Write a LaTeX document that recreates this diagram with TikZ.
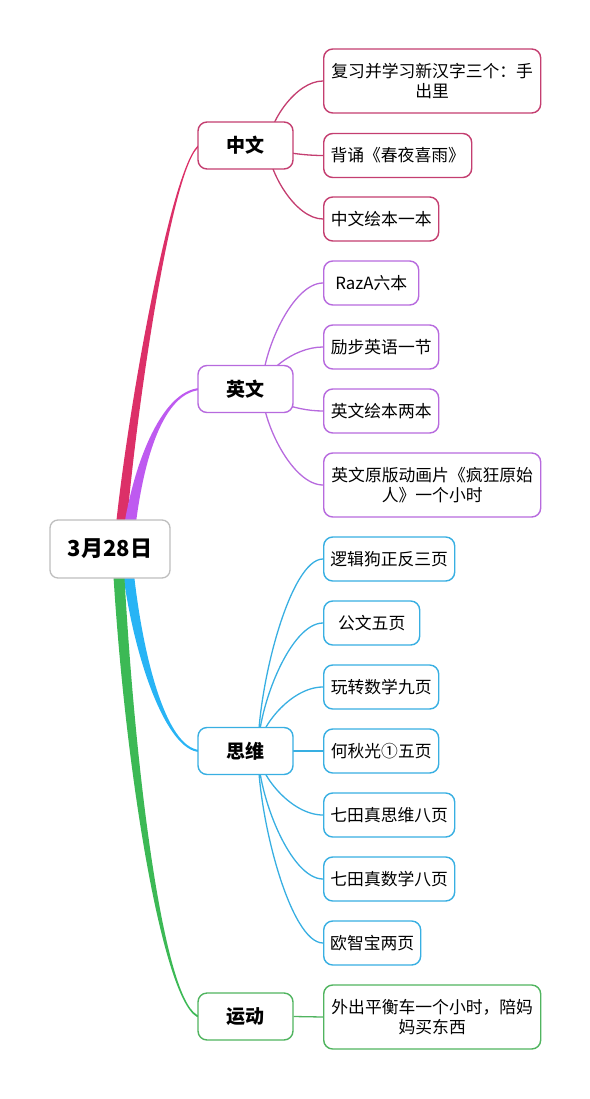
\documentclass[tikz,border=0pt]{standalone}
\usepackage{fontspec}
\setmainfont{Noto Sans CJK SC}
\usetikzlibrary{calc}
\pgfdeclarelayer{bg}
\pgfsetlayers{bg,main}
\definecolor{czb}{RGB}{220,48,104}
\definecolor{czk}{RGB}{196,62,112}
\definecolor{cyb}{RGB}{190,90,240}
\definecolor{cyk}{RGB}{183,106,222}
\definecolor{csb}{RGB}{40,180,245}
\definecolor{csk}{RGB}{56,175,226}
\definecolor{cdb}{RGB}{60,185,85}
\definecolor{cdk}{RGB}{80,180,95}
\definecolor{cgr}{RGB}{190,190,190}
\tikzset{
  rootbox/.style={draw=cgr, line width=1.3pt, fill=white, rounded corners=8pt,
    minimum width=120pt, minimum height=58pt, inner sep=0pt,
    font=\fontsize{22}{25}\selectfont\bfseries},
  pbox/.style={line width=1.4pt, fill=white, rounded corners=9pt,
    minimum width=95pt, minimum height=47pt, inner sep=0pt,
    font=\fontsize{19}{22}\selectfont\bfseries},
  kbox/.style={line width=1.4pt, fill=white, rounded corners=9pt, anchor=west,
    minimum height=44pt, inner sep=0pt, align=center,
    font=\fontsize{16.8}{20}\selectfont},
  tall/.style={minimum height=64pt},
  kidline/.style={line width=1.3pt, to path={.. controls ($(\tikztostart)!0.35!(\tikztostart|-\tikztotarget)$) and ($(\tikztotarget)!0.5!(\tikztotarget-|\tikztostart)$) .. (\tikztotarget)}}
}
\begin{document}
\begin{tikzpicture}[x=1pt,y=-1pt]
\useasboundingbox (0,0) rectangle (589,1099);
% nodes
\node[rootbox] (root) at (110,549) {3月28日};
\node[pbox, draw=czk] (zw) at (245.5,145.5) {中文};
\node[pbox, draw=cyk] (yw) at (245.5,389) {英文};
\node[pbox, draw=csk] (sw) at (245.5,751) {思维};
\node[pbox, draw=cdk] (yd) at (245.5,1016.5) {运动};
% 中文
\node[kbox, draw=czk, tall, minimum width=217pt] (z1) at (323,81) {复习并学习新汉字三个：手\\出里};
\node[kbox, draw=czk, minimum width=148pt] (z2) at (323,155.5) {背诵《春夜喜雨》};
\node[kbox, draw=czk, minimum width=115pt] (z3) at (323,219) {中文绘本一本};
% 英文
\node[kbox, draw=cyk, minimum width=95pt] (y1) at (323,283) {RazA六本};
\node[kbox, draw=cyk, minimum width=115pt] (y2) at (323,347) {励步英语一节};
\node[kbox, draw=cyk, minimum width=115pt] (y3) at (323,411) {英文绘本两本};
\node[kbox, draw=cyk, tall, minimum width=217pt] (y4) at (323,485) {英文原版动画片《疯狂原始\\人》一个小时};
% 思维
\node[kbox, draw=csk, minimum width=131pt] (s1) at (323,559) {逻辑狗正反三页};
\node[kbox, draw=csk, minimum width=96pt] (s2) at (323,623) {公文五页};
\node[kbox, draw=csk, minimum width=115pt] (s3) at (323,687) {玩转数学九页};
\node[kbox, draw=csk, minimum width=115pt] (s4) at (323,751) {何秋光①五页};
\node[kbox, draw=csk, minimum width=131pt] (s5) at (323,815) {七田真思维八页};
\node[kbox, draw=csk, minimum width=131pt] (s6) at (323,879) {七田真数学八页};
\node[kbox, draw=csk, minimum width=97pt] (s7) at (323,943) {欧智宝两页};
% 运动
\node[kbox, draw=cdk, tall, minimum width=217pt] (d1) at (323,1017) {外出平衡车一个小时，陪妈\\妈买东西};
\coordinate (zS) at (268,146);
\coordinate (yS) at (262,389);
\coordinate (sS) at (258,751);
\begin{pgfonlayer}{bg}
% main tapered branches
\fill[czb] (114.5,540) .. controls (125.5,420) and (172,158.5) .. (200,144) -- (200,146) .. controls (172,161.5) and (134.5,420) .. (125.5,540) -- cycle;
\fill[cyb] (122,540) .. controls (131,470) and (160,390.5) .. (200,388) -- (200,390) .. controls (160,393.5) and (141,470) .. (134,540) -- cycle;
\fill[csb] (132.5,560) .. controls (141,650) and (165,748.5) .. (200,750) -- (200,752) .. controls (165,751.5) and (131,650) .. (121.5,560) -- cycle;
\fill[cdb] (123.5,560) .. controls (135,780) and (165,1008.5) .. (200,1016) -- (200,1018) .. controls (165,1011.5) and (125,780) .. (112.5,560) -- cycle;
% kid connectors
\foreach \k in {z1,z2,z3} \draw[kidline, czk] (zS) to (\k.west);
\foreach \k in {y1,y2,y3,y4} \draw[kidline, cyk] (yS) to (\k.west);
\foreach \k in {s1,s2,s3,s4,s5,s6,s7} \draw[kidline, csk] (sS) to (\k.west);
\draw[line width=1.3pt, cdk] (yd.east) -- (d1.west);
\end{pgfonlayer}
\end{tikzpicture}
\end{document}
